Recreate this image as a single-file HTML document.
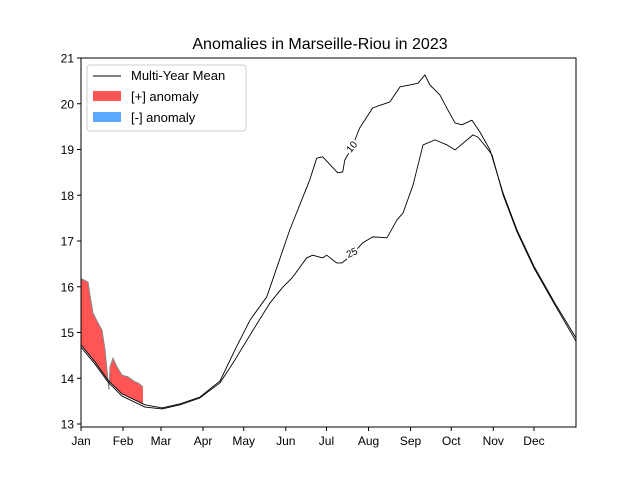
<!DOCTYPE html>
<html><head><meta charset="utf-8"><style>
body{margin:0;background:#fff;}
svg{display:block;font-family:"Liberation Sans","DejaVu Sans",sans-serif;}
</style></head><body>
<svg id="c" width="640" height="480"></svg>
<script>
const upperDays=[0,10.3,19.9,30.2,47.2,59.7,73.0,87.7,102.5,113.5,124.6,137.0,153.9,168.6,173.8,178.2,189.3,193.0,194.5,199.6,205.5,215.1,227.8,235.2,242.6,248.5,253.6,257.3,264.7,270.6,275.8,280.9,288.3,294.2,301.6,311.2,321.5,334.0,349.5,365];
const upperMean=[14.73,14.36,13.96,13.66,13.42,13.35,13.44,13.59,13.94,14.62,15.27,15.78,17.24,18.33,18.81,18.84,18.49,18.51,18.77,19.03,19.47,19.91,20.04,20.37,20.41,20.45,20.63,20.41,20.19,19.86,19.58,19.54,19.64,19.38,18.99,18.05,17.24,16.45,15.64,14.88];
const lowerDays=[0,10.3,19.9,30.2,47.2,59.7,73.0,87.7,102.5,113.5,126.8,139.2,148.8,156.1,166.4,170.8,178.2,181.2,188.6,192.3,199.6,207.7,215.1,225.6,233.0,237.4,244.8,252.2,261.0,269.9,275.8,289.0,292.7,299.4,303.1,311.2,321.5,334.0,349.5,365];
const lowerMean=[14.68,14.31,13.92,13.61,13.37,13.33,13.42,13.57,13.90,14.40,15.05,15.64,15.99,16.21,16.63,16.69,16.63,16.69,16.52,16.52,16.69,16.96,17.09,17.07,17.46,17.61,18.22,19.10,19.21,19.10,18.99,19.32,19.27,19.03,18.88,18.01,17.20,16.41,15.60,14.81];
const obsDays=[0,0.7,5.2,6.6,8.8,12.5,15.5,17.7,19.9,20.6,21.4,23.6,26.5,30.2,34.7,39.8,42.0,45.7];
const obsTemp=[16.17,16.17,16.10,15.82,15.43,15.21,15.05,14.62,13.96,13.75,14.25,14.44,14.25,14.07,14.03,13.92,13.90,13.81];
const monthLabels=["Jan","Feb","Mar","Apr","May","Jun","Jul","Aug","Sep","Oct","Nov","Dec"];
const monthStarts=[0,31,59,90,120,151,181,212,243,273,304,334];
const yTicks=[13,14,15,16,17,18,19,20,21];

const L=81,R=576,T=58,B=427;
const X=d=>L+d*(R-L)/365;
const Y=v=>58+(21-v)*45.75;
const svg=document.getElementById('c');
const NS='http://www.w3.org/2000/svg';
function mk(tag,attrs,parent){const e=document.createElementNS(NS,tag);for(const k in attrs)e.setAttribute(k,attrs[k]);(parent||svg).appendChild(e);return e;}
function interp(d,days,vals){for(let i=0;i<days.length-1;i++){if(d>=days[i]&&d<=days[i+1]){const t=(d-days[i])/(days[i+1]-days[i]);return vals[i]+t*(vals[i+1]-vals[i]);}}return vals[vals.length-1];}

const t=mk('text',{x:320,y:49,'text-anchor':'middle','font-size':16,fill:'#000'});t.textContent='Anomalies in Marseille-Riou in 2023';



const defs=mk('defs',{});
const meanPts=upperDays.map((d,i)=>X(d)+','+Y(upperMean[i])).join(' ');
const cpA=mk('clipPath',{id:'above'},defs);
mk('polygon',{points:meanPts+' '+X(365)+','+T+' '+X(0)+','+T},cpA);
const cpB=mk('clipPath',{id:'below'},defs);
mk('polygon',{points:meanPts+' '+X(365)+','+B+' '+X(0)+','+B},cpB);

const fwd=obsDays.map((d,i)=>X(d)+','+Y(obsTemp[i]));
const back=obsDays.slice().reverse().map(d=>X(d)+','+Y(interp(d,upperDays,upperMean)));
const poly=fwd.concat(back).join(' ');
const pos=mk('polygon',{points:poly,fill:'#ff5555','clip-path':'url(#above)'});


const neg=mk('polygon',{points:poly,fill:'#5aaaff','clip-path':'url(#below)'});


const obs=mk('polyline',{points:fwd.join(' '),fill:'none',stroke:'#888','stroke-width':1});



const up=mk('polyline',{points:meanPts,fill:'none',stroke:'#000','stroke-width':0.9,'stroke-linejoin':'round'});


const lo=mk('polyline',{points:lowerDays.map((d,i)=>X(d)+','+Y(lowerMean[i])).join(' '),fill:'none',stroke:'#000','stroke-width':0.9,'stroke-linejoin':'round'});



const l10=mk('text',{x:352,y:150,'font-size':10,'text-anchor':'middle',transform:'rotate(-50 352 147)',stroke:'#fff','stroke-width':4,'paint-order':'stroke'});l10.textContent='10';


const l25=mk('text',{x:352,y:256,'font-size':10,'text-anchor':'middle',transform:'rotate(-25 352 253)',stroke:'#fff','stroke-width':4,'paint-order':'stroke'});l25.textContent='25';



const fr=mk('rect',{x:L,y:T,width:R-L,height:B-T,fill:'none',stroke:'#000','stroke-width':1});



monthStarts.forEach((d,i)=>{
  mk('line',{x1:X(d),x2:X(d),y1:B,y2:B+4,stroke:'#000'});
  const tx=mk('text',{x:X(d),y:B+18,'text-anchor':'middle','font-size':12});tx.textContent=monthLabels[i];
  
  
});
yTicks.forEach(v=>{
  mk('line',{x1:L-4,x2:L,y1:Y(v),y2:Y(v),stroke:'#000'});
  const tx=mk('text',{x:L-7,y:Y(v)+4.5,'text-anchor':'end','font-size':12});tx.textContent=v;
  
  
});

const lg=mk('g',{});


mk('rect',{x:87,y:65,width:159,height:66,rx:3,fill:'#fff','fill-opacity':0.8,stroke:'#ccc'},lg);
mk('line',{x1:93,x2:121,y1:76,y2:76,stroke:'#000','stroke-width':1},lg);
mk('rect',{x:93,y:91,width:28,height:10,fill:'#ff5555'},lg);
mk('rect',{x:93,y:112,width:28,height:10,fill:'#5aaaff'},lg);
[['Multi-Year Mean',80],['[+] anomaly',101],['[-] anomaly',122]].forEach(([s,y])=>{
  const e=mk('text',{x:131,y:y,'font-size':13},lg);e.textContent=s;
  
  
});
</script>
</body></html>
